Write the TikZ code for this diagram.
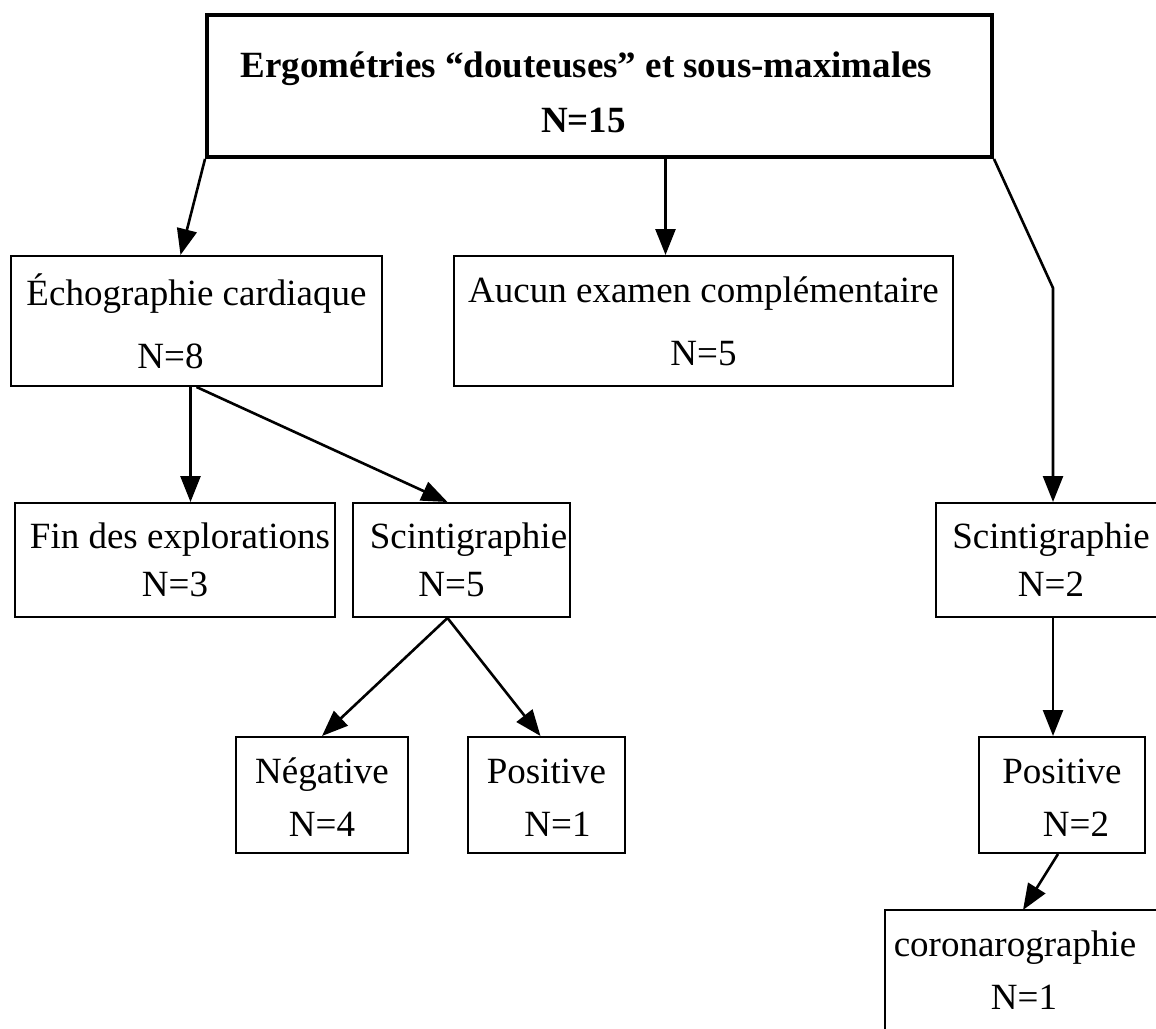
\documentclass[tikz,border=0pt]{standalone}
\usepackage{fontspec}
\setmainfont{Liberation Serif}
\usetikzlibrary{arrows.meta}
\newcommand{\pxu}{0.5pt}

\begin{document}
\begin{tikzpicture}[
  x=0.5pt, y=-0.5pt,
  box/.style={draw, line width=1pt, inner sep=0pt, align=center},
  big/.style={font=\fontsize{18.5}{31.5}\selectfont},
  mid/.style={font=\fontsize{18.5}{24}\selectfont},
  low/.style={font=\fontsize{18.5}{26.5}\selectfont},
  line width=1.3pt,
  -{Triangle[length=13pt,width=10pt]},
]
  \clip (0,0) rectangle (1156,1028);

  \node[box, line width=2pt, font=\bfseries\fontsize{18.5}{27.5}\selectfont,
        minimum width=785*\pxu, minimum height=142*\pxu] (top) at (599.5,86)
    {\rule{0pt}{19.5pt}Ergométries “douteuses” et sous-maximales\hspace*{13pt}\\N=15\hspace*{16pt}};

  \node[box, big, minimum width=371*\pxu, minimum height=130*\pxu] (ech) at (196.5,321)
    {Échographie cardiaque\\N=8\hspace*{26pt}};
  \node[box, big, minimum width=499*\pxu, minimum height=130*\pxu] (aucun) at (703.5,321)
    {Aucun examen complémentaire\\N=5};

  \node[box, mid, minimum width=320*\pxu, minimum height=114*\pxu] (fin) at (175,560)
    {\hspace*{5pt}Fin des explorations\\N=3};
  \node[box, mid, minimum width=217*\pxu, minimum height=114*\pxu] (scintA) at (461.5,560)
    {\hspace*{7pt}Scintigraphie\\N=5\hspace*{10pt}};
  \node[box, mid, minimum width=230*\pxu, minimum height=114*\pxu] (scintB) at (1051,560)
    {Scintigraphie\\N=2};

  \node[box, low, minimum width=172*\pxu, minimum height=116*\pxu] (neg) at (322,795)
    {\rule{0pt}{15pt}Négative\\N=4};
  \node[box, low, minimum width=157*\pxu, minimum height=116*\pxu] (posA) at (546.5,795)
    {\rule{0pt}{15pt}Positive\\\hspace*{11pt}N=1};
  \node[box, low, minimum width=166*\pxu, minimum height=116*\pxu] (posB) at (1062,795)
    {\rule{0pt}{15pt}Positive\\\hspace*{14pt}N=2};

  % coronarographie, cut by the page edge
  \draw[-, line width=1pt] (885,1040) |- (1170,910);
  \node[low, inner sep=0pt, align=center] (corona) at (1015,970)
    {coronarographie\\\hspace*{9pt}N=1};

  % first level
  \draw (top.south west) -- ([xshift=-8pt]ech.north);
  \draw ([xshift=-19pt]aucun.north |- top.south) -- ([xshift=-19pt]aucun.north);
  \coordinate (bend) at (1053,288);
  \draw (top.south east) -- (bend) -- (bend |- scintB.north);

  % echographie
  \draw ([xshift=-3pt]ech.south) -- ([xshift=-3pt]ech.south |- fin.north);
  \draw (ech.south) -- ([xshift=-7pt]scintA.north);

  % scintigraphie
  \draw ([xshift=-7pt]scintA.south) -- (neg.north);
  \draw ([xshift=-7pt]scintA.south) -- ([xshift=-3pt]posA.north);
  \draw (bend |- scintB.south) -- (bend |- posB.north);
  \coordinate (coronaTop) at (1023,910);
  \draw ([xshift=-2pt]posB.south) -- (coronaTop);
\end{tikzpicture}
\end{document}
